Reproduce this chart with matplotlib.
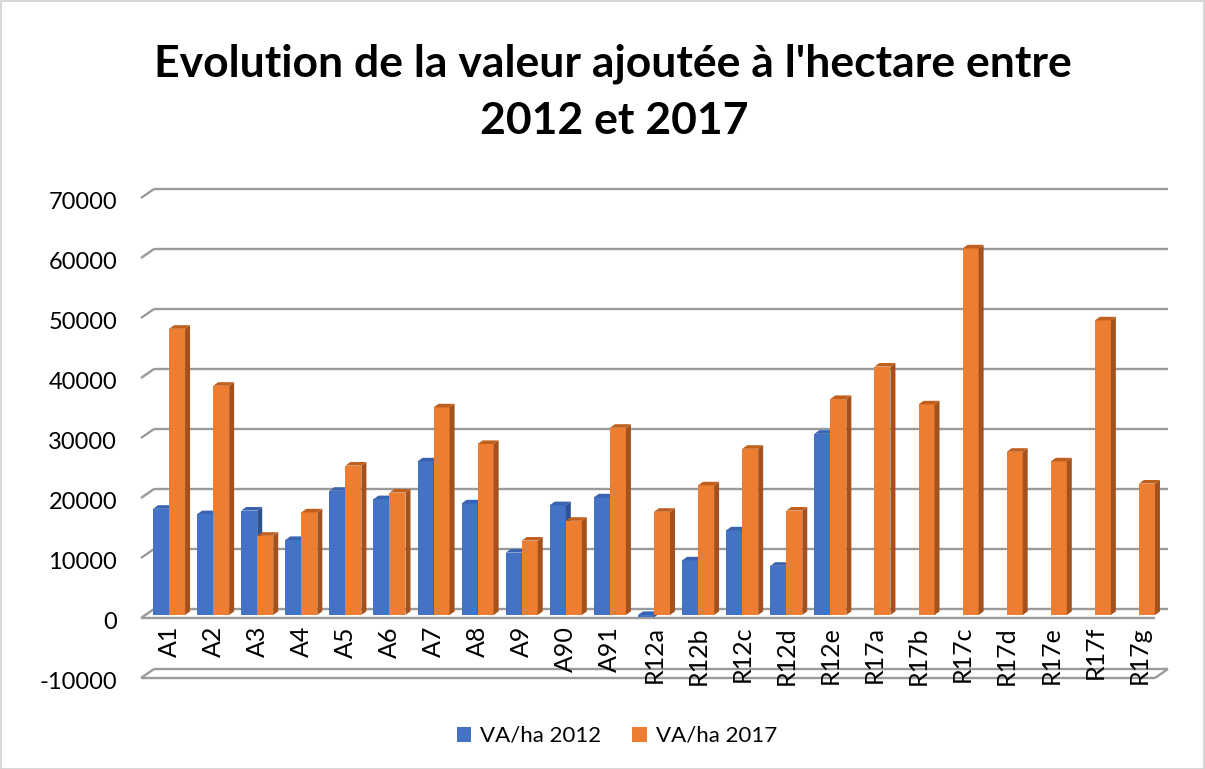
import matplotlib
matplotlib.use('Agg')
import matplotlib.pyplot as plt
from matplotlib.patches import Polygon, Rectangle, Patch
from matplotlib.transforms import offset_copy
import numpy as np

plt.rcParams['font.family'] = ['Lato', 'DejaVu Sans']

# ---------------- data ----------------
categories = ['A1', 'A2', 'A3', 'A4', 'A5', 'A6', 'A7', 'A8', 'A9', 'A90', 'A91',
              'R12a', 'R12b', 'R12c', 'R12d', 'R12e',
              'R17a', 'R17b', 'R17c', 'R17d', 'R17e', 'R17f', 'R17g']
va_2012 = [17700, 16800, 17400, 12500, 20700, 19300, 25600, 18600, 10400, 18300, 19600,
           -400, 9100, 14100, 8200, 30200,
           np.nan, np.nan, np.nan, np.nan, np.nan, np.nan, np.nan]
va_2017 = [47700, 38200, 13200, 17100, 24900, 20400, 34600, 28500, 12400, 15700, 31200,
           17200, 21600, 27700, 17400, 36000,
           41400, 35100, 61100, 27200, 25600, 49100, 21900]
y_ticks = list(range(-10000, 70001, 10000))
series_names = ['VA/ha 2012', 'VA/ha 2017']
title_lines = ["Evolution de la valeur ajoutée à l'hectare entre", "2012 et 2017"]

# ---------------- style ----------------
W, H = 1205, 769
blue, blue_side, blue_top = '#4472C4', '#2F5294', '#3A62AE'
orange, orange_side, orange_top = '#ED7D31', '#A3521E', '#C0601F'
grid_col = '#9A9A9A'
grid_lw = 1.7
bar_w = 0.363
side_dx, side_dy = 5, 3.6      # bar depth in pixels
front_off = (-6, -3)           # front plane offset from bar plane (pixels)
back_off = (7, 6)              # back wall offset from bar plane (pixels)

fig = plt.figure(figsize=(W / 100, H / 100), dpi=100)
ax = fig.add_axes([147 / W, (H - 675) / H, (1161 - 147) / W, 480 / H])
n = len(categories)
ax.set_xlim(-0.5, n - 0.5)
ax.set_ylim(-10000, 70000)
ax.set_axis_off()

def pt(x, v, dx=0, dy=0):
    X, Y = ax.transData.transform((x, v))
    return ax.transData.inverted().transform((X + dx, Y + dy))

def line(p, q, **kw):
    ax.plot([p[0], q[0]], [p[1], q[1]], color=grid_col, lw=grid_lw,
            solid_capstyle='butt', clip_on=False, **kw)

x0, x1 = -0.5, n - 0.5
# back wall gridlines with left stubs
for v in y_ticks:
    if v in (0, -10000):
        continue
    line(pt(x1, v, *back_off), pt(x0, v, *back_off), zorder=1)
    line(pt(x0, v, *back_off), pt(x0, v, *front_off), zorder=1)

# floors at 0 and -10000
for v, close_right in ((0, False), (-10000, True)):
    fl, fr = pt(x0, v, *front_off), pt(x1, v, *front_off)
    bl, br = pt(x0, v, *back_off), pt(x1, v, *back_off)
    ax.add_patch(Polygon([fl, fr, br, bl], closed=True, facecolor='white',
                         edgecolor='none', zorder=1.5, clip_on=False))
    line(fl, fr, zorder=1.6)
    line(bl, br, zorder=1.6)
    line(fl, bl, zorder=1.6)
    if close_right:
        line(fr, br, zorder=1.6)

# bars (front faces via ax.bar, top and side faces as polygons)
xs = np.arange(n)

def faces(xl, xr, v, side_c, top_c, z):
    if np.isnan(v):
        return
    lo, hi = min(0, v), max(0, v)
    top = [pt(xl, hi), pt(xr, hi), pt(xr, hi, side_dx, side_dy), pt(xl, hi, side_dx, side_dy)]
    side = [pt(xr, lo), pt(xr, hi), pt(xr, hi, side_dx, side_dy), pt(xr, lo, side_dx, side_dy)]
    ax.add_patch(Polygon(side, closed=True, facecolor=side_c, edgecolor='none',
                         zorder=z, clip_on=False))
    ax.add_patch(Polygon(top, closed=True, facecolor=top_c, edgecolor='none',
                         zorder=z, clip_on=False))

ax.bar(xs - bar_w / 2, va_2012, width=bar_w, color=blue, zorder=3, clip_on=False)
ax.bar(xs + bar_w / 2, va_2017, width=bar_w, color=orange, zorder=4, clip_on=False)
for i in range(n):
    faces(xs[i] - bar_w, xs[i], va_2012[i], blue_side, blue_top, 3.2)
    faces(xs[i], xs[i] + bar_w, va_2017[i], orange_side, orange_top, 4.2)

# y tick labels (front plane)
ytr = offset_copy(ax.transData, fig=fig, x=-(147 - 117), y=-14, units='dots')
for v in y_ticks:
    ax.text(x0, v, str(v), ha='right', va='baseline', fontsize=17, color='#000000',
            transform=ytr)

# category labels
xtr = offset_copy(ax.transData, fig=fig, x=0, y=-11, units='dots')
for i, lab in enumerate(categories):
    ax.text(xs[i], 0, lab, rotation=90, ha='center', va='top', fontsize=18,
            color='#000000', transform=xtr, zorder=6)

# title
fig.text(613 / W, 1 - 77 / H, title_lines[0], ha='center', va='baseline',
         fontsize=32, fontweight='bold')
fig.text(614 / W, 1 - 134 / H, title_lines[1], ha='center', va='baseline',
         fontsize=32, fontweight='bold')

# legend
handles = [Patch(facecolor=blue), Patch(facecolor=orange)]
fig.legend(handles, series_names, loc='center', bbox_to_anchor=(617 / W, 1 - 736 / H),
           ncol=2, frameon=False, fontsize=16, handlelength=0.65, handleheight=0.65,
           columnspacing=1.4, handletextpad=0.4)

# chart border
fig.patches.append(Rectangle((0.5 / W, 0.5 / H), 1 - 1.5 / W, 1 - 1.5 / H,
                             transform=fig.transFigure, fill=False,
                             edgecolor='#D0D0D0', lw=1.2))

fig.savefig('out.png', dpi=100)
